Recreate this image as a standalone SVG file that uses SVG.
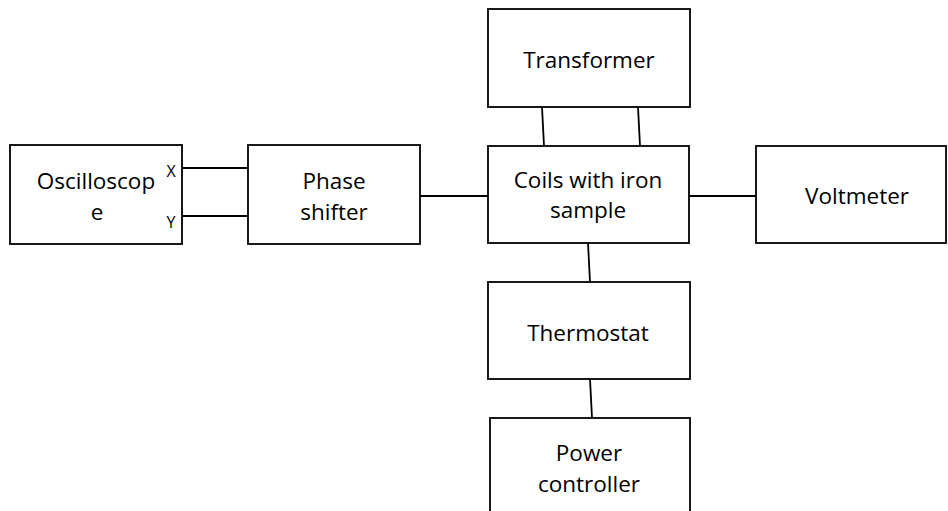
<svg xmlns="http://www.w3.org/2000/svg" width="948" height="511" viewBox="0 0 948 511">
<style>
.box{fill:#fff;stroke:#000;stroke-width:1.8}
.ln{stroke:#000;stroke-width:1.8;fill:none}
text{font-family:"Open Sans","Liberation Sans",sans-serif;font-size:22.5px;fill:#000;text-anchor:middle}
.sm{font-size:16px}
</style>
<rect width="948" height="511" fill="#fff"/>
<g id="connectors">
<line class="ln" x1="182" y1="168" x2="250" y2="168"/>
<line class="ln" x1="182" y1="216" x2="250" y2="216"/>
<line class="ln" x1="420" y1="196" x2="488" y2="196"/>
<line class="ln" x1="689" y1="196" x2="756" y2="196"/>
<line class="ln" x1="542" y1="107" x2="544" y2="146"/>
<line class="ln" x1="638" y1="107" x2="640" y2="146"/>
<line class="ln" x1="588" y1="243" x2="590" y2="282"/>
<line class="ln" x1="590" y1="379" x2="592" y2="418"/>
</g>
<g id="oscilloscope">
<rect class="box" x="10" y="145" width="172" height="99"/>
<text x="96" y="189">Oscilloscop</text>
<text x="97" y="220">e</text>
<text class="sm" x="171" y="177">X</text>
<text class="sm" x="171" y="228">Y</text>
</g>
<g id="phase-shifter">
<rect class="box" x="248" y="145" width="172" height="99"/>
<text x="334" y="189">Phase</text>
<text x="334" y="220">shifter</text>
</g>
<g id="transformer">
<rect class="box" x="488" y="9" width="202" height="98"/>
<text x="589" y="68">Transformer</text>
</g>
<g id="coils">
<rect class="box" x="488" y="146" width="201" height="97"/>
<text x="588" y="188">Coils with iron</text>
<text x="588" y="218">sample</text>
</g>
<g id="voltmeter">
<rect class="box" x="756" y="146" width="190" height="97"/>
<text x="857" y="204">Voltmeter</text>
</g>
<g id="thermostat">
<rect class="box" x="488" y="282" width="202" height="97"/>
<text x="588" y="341">Thermostat</text>
</g>
<g id="power-controller">
<rect class="box" x="490" y="418" width="200" height="110"/>
<text x="589" y="461">Power</text>
<text x="589" y="492">controller</text>
</g>
</svg>
